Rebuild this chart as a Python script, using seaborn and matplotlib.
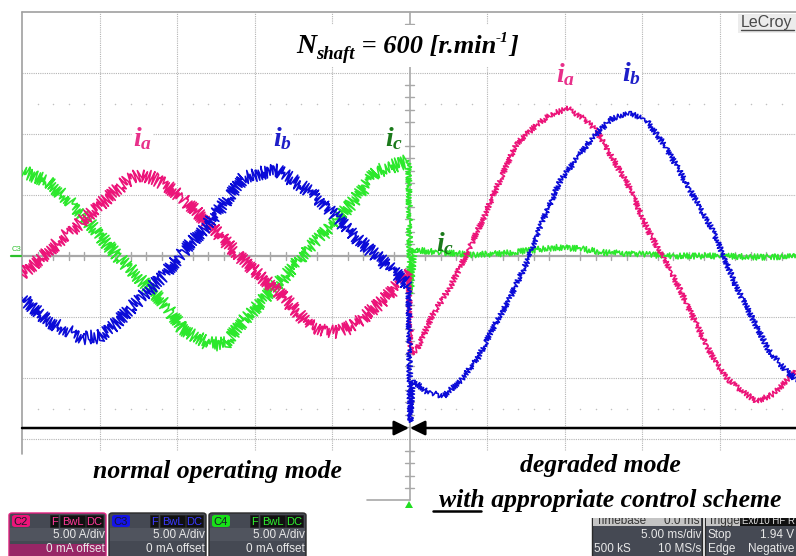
import matplotlib
matplotlib.use("Agg")
import matplotlib.pyplot as plt
import seaborn as sns
from matplotlib.patches import Rectangle, FancyBboxPatch, Polygon
from matplotlib.lines import Line2D

# ---------------- data : time [ms], current [A] (5 A/div, 5 ms/div) ----------------
t_ia_normal = [0.0, 1.7, 3.9, 6.0, 6.8, 7.7, 8.6, 9.2, 10.3, 12.0, 14.3, 16.5, 18.6, 19.4, 20.3, 21.2, 21.8, 23.5, 24.95]
ia_normal = [-1.5, 0.4, 2.9, 5.3, 6.2, 6.7, 6.3, 5.9, 4.8, 2.7, -0.4, -2.9, -5.7, -6.1, -6.3, -5.8, -5.3, -3.4, -1.3]

t_ib_normal = [0.0, 1.7, 2.8, 3.9, 5.0, 6.0, 7.7, 9.2, 10.3, 12.0, 14.3, 15.4, 16.5, 17.5, 18.6, 20.3, 21.8, 23.5, 24.95]
ib_normal = [-3.4, -5.3, -6.1, -6.7, -6.6, -5.6, -3.4, -1.5, 0.2, 2.6, 6.4, 6.8, 7.0, 6.2, 5.3, 3.1, 1.2, -0.7, -2.4]

t_ic_normal = [0.0, 1.7, 3.9, 6.0, 7.7, 9.2, 10.3, 11.2, 12.0, 13.1, 14.3, 16.5, 18.6, 20.3, 21.8, 22.8, 23.5, 24.95]
ic_normal = [7.0, 6.1, 3.4, 0.2, -2.0, -3.9, -5.9, -6.6, -7.2, -7.2, -5.3, -2.3, 0.7, 2.9, 5.1, 6.9, 7.2, 7.8]

t_ia_degraded = [24.95, 25.1, 25.5, 26.5, 27.6, 28.7, 29.7, 30.8, 31.9, 33.0, 34.1, 35.2, 36.2, 37.1, 38.1,
                 39.2, 40.3, 41.4, 42.4, 43.5, 44.6, 45.6, 46.7, 47.4, 48.5, 49.5, 50.0]
ia_degraded = [-1.3, -8.0, -7.6, -4.8, -2.6, 0.2, 2.9, 6.1, 9.2, 10.5, 11.6, 12.1, 11.3, 10.2, 8.0,
               5.6, 2.3, -0.2, -2.6, -5.6, -8.4, -10.2, -11.3, -11.9, -11.3, -10.0, -9.4]

t_ib_degraded = [24.95, 25.05, 25.2, 26.1, 27.2, 28.3, 29.4, 30.4, 31.5, 32.6, 33.6, 34.7, 35.8, 36.8, 38.1,
                 39.2, 40.3, 41.4, 42.4, 43.5, 44.6, 45.2, 46.1, 47.2, 48.2, 49.3, 50.0]
ib_degraded = [-2.4, -13.6, -10.2, -11.1, -11.5, -10.2, -8.4, -5.9, -3.4, -0.4, 2.9, 6.1, 8.0, 9.7, 11.3,
               11.7, 11.1, 9.2, 7.0, 4.5, 2.0, 0.2, -2.6, -5.3, -7.8, -9.4, -10.2]

t_ic_degraded = [24.95, 25.05, 25.3, 27.0, 29.0, 31.0, 33.0, 34.5, 36.0, 37.5, 39.0, 42.0, 45.0, 48.0, 50.0]
ic_degraded = [7.8, -3.1, 0.5, 0.3, 0.1, 0.2, 0.5, 0.7, 0.6, 0.3, 0.2, 0.0, 0.0, -0.1, 0.0]

grid_times = [5, 10, 15, 20, 30, 35, 40, 45]
grid_currents = [15, 10, 5, -5, -10, -15]

channel_names = ["C2", "C3", "C4"]
channel_scale = ["5.00 A/div", "5.00 A/div", "5.00 A/div"]
channel_offset = ["0 mA offset", "0 mA offset", "0 mA offset"]

# ---------------- style ----------------
W, H = 796, 556
sns.set_style("white")
plt.rcParams["font.family"] = ["Liberation Sans", "DejaVu Sans"]
plt.rcParams["mathtext.fontset"] = "custom"
plt.rcParams["mathtext.it"] = "Liberation Serif:bold:italic"
plt.rcParams["mathtext.rm"] = "Liberation Serif:bold:italic"
plt.rcParams["mathtext.bf"] = "Liberation Serif:bold"

PINK, BLUE, GREEN = "#EC1479", "#0B0BD8", "#2CE82C"
PINK_T, BLUE_T, GREEN_T = "#E8308A", "#1E1EC8", "#1B7A1B"

fig = plt.figure(figsize=(W / 100, H / 100), dpi=100)
fig.patch.set_facecolor("white")


def fx(x):
    return x / W


def fy(y):
    return 1 - y / H


L, R, T, B = 22, 797, 12, 500
ax = fig.add_axes([fx(L), fy(B), (R - L) / W, (B - T) / H])
ax.set_xlim(0, 50)
ax.set_ylim(-20, 20)

# ---------------- graticule ----------------
gc = "#b4b4b4"
ybot = -15.9
for t in grid_times:
    ax.plot([t, t], [ybot, 20], color=gc, lw=0.8, ls=(0, (1, 1)), zorder=1)
for a in grid_currents:
    ax.plot([0, 50], [a, a], color=gc, lw=0.8, ls=(0, (1, 1)), zorder=1)
ax.plot([0, 0], [-16.2, 20], color="#a0a0a0", lw=1.2, zorder=1, clip_on=False)
ax.plot([0, 50], [20, 20], color="#a0a0a0", lw=1.2, zorder=1, clip_on=False)
ax.plot([25, 25], [-20, 20], color="#a8a8a8", lw=1.2, zorder=1, clip_on=False)
ax.plot([0, 50], [0, 0], color="#a8a8a8", lw=1.6, zorder=1)
ax.plot([22.26, 25], [-20, -20], color="#a8a8a8", lw=1.2, zorder=1, clip_on=False)
for k in range(1, 50):
    if k % 5:
        ax.plot([k, k], [-0.33, 0.33], color="#a8a8a8", lw=1.0, zorder=1)
for k in range(-19, 20):
    if k % 5:
        ax.plot([24.74, 25.26], [k, k], color="#a8a8a8", lw=1.0, zorder=1)
dots_t = [k for k in range(1, 50) if k % 5]
for lev in (12.5, -12.5):
    ax.scatter(dots_t, [lev] * len(dots_t), s=1.2, color="#c0c0c0", zorder=1, linewidths=0)


# ---------------- traces ----------------
def trace(t, v, color, scale, z):
    sns.lineplot(x=t, y=v, color=color, lw=1.15, ax=ax, estimator=None, sort=False,
                 legend=False, zorder=z)
    ax.lines[-1].set_sketch_params(scale, 3, 2)


trace(t_ic_normal, ic_normal, GREEN, 7, 3)
trace(t_ia_normal, ia_normal, PINK, 7, 4)
trace(t_ib_normal, ib_normal, BLUE, 7, 5)
trace(t_ic_degraded, ic_degraded, GREEN, 3, 3)
trace(t_ia_degraded, ia_degraded, PINK, 2.8, 4)
trace(t_ib_degraded, ib_degraded, BLUE, 2.8, 5)
ax.axis("off")

# mode arrows
ax.annotate("", xy=(24.97, -14.1), xytext=(0, -14.1),
            arrowprops=dict(arrowstyle="-|>,head_length=0.45,head_width=0.22", color="black",
                            lw=1.8, shrinkA=0, shrinkB=0, mutation_scale=20), zorder=6)
ax.annotate("", xy=(25.03, -14.1), xytext=(50.5, -14.1),
            arrowprops=dict(arrowstyle="-|>,head_length=0.45,head_width=0.22", color="black",
                            lw=1.8, shrinkA=0, shrinkB=0, mutation_scale=20), zorder=6,
            annotation_clip=False)

# ---------------- title built from runs ----------------
renderer = fig.canvas.get_renderer()
fig.add_artist(Rectangle((fx(290), fy(67)), 236 / W, 42 / H, fc="white", ec="none", zorder=2))
serif_bi = dict(family="Liberation Serif", weight="bold", style="italic", ha="left",
                va="baseline", color="black", zorder=7)
title_runs = [("N", 20, 0), ("shaft", 13.5, 6), (" = 600 [r.min", 19, 0), ("-1", 11, -11), ("]", 19, 0)]
total = 0
for s, size, dy in title_runs:
    tt = fig.text(0, 0, s, fontsize=size, **serif_bi)
    total += tt.get_window_extent(renderer=renderer).width
    tt.remove()
xcur = 407 - total / 2
for s, size, dy in title_runs:
    tt = fig.text(fx(xcur), fy(53 + dy), s, fontsize=size, **serif_bi)
    xcur += tt.get_window_extent(renderer=renderer).width

# ---------------- labels ----------------
lab = dict(fontsize=20, ha="left", va="baseline", zorder=7)
bb = dict(fc="white", ec="none", pad=1)
fig.text(fx(133), fy(146), r"$i_a$", color=PINK_T, bbox=bb, **lab)
fig.text(fx(273), fy(146), r"$i_b$", color=BLUE_T, bbox=bb, **lab)
fig.text(fx(385), fy(146), r"$i_c$", color=GREEN_T, bbox=bb, **lab)
fig.text(fx(556), fy(82), r"$i_a$", color=PINK_T, bbox=bb, **lab)
fig.text(fx(622), fy(81), r"$i_b$", color=BLUE_T, bbox=bb, **lab)
fig.text(fx(436), fy(251), r"$i_c$", color=GREEN_T, **lab)

bt = dict(fontsize=18.5, family="Liberation Serif", weight="bold", style="italic",
          ha="center", va="baseline", color="black")
fig.text(fx(217), fy(478), "normal operating mode", **bt)
fig.text(fx(600), fy(472), "degraded mode", **bt)
fig.text(fx(610), fy(507), "with appropriate control scheme", **bt)
fig.add_artist(Line2D([fx(433), fx(481)], [fy(511), fy(511)], color="black", lw=1.8))

# LeCroy badge
fig.add_artist(Rectangle((fx(738), fy(33)), (796 - 738) / W, 19 / H, fc="#ececec", ec="none"))
fig.text(fx(741), fy(27), "LeCroy", fontsize=11.5, color="#4a4a4a", ha="left", va="baseline")
fig.add_artist(Line2D([fx(741), fx(794)], [fy(29.5), fy(29.5)], color="#4a4a4a", lw=1.0))

# C3 marker at left
fig.text(fx(16), fy(251), "C3", fontsize=5.5, color="#2cc02c", ha="center", va="baseline")
fig.add_artist(Line2D([fx(11), fx(21)], [fy(256), fy(256)], color="#2cc02c", lw=1.6))

# trigger marker
fig.add_artist(Polygon([(fx(405), fy(508)), (fx(413), fy(508)), (fx(409), fy(501))],
                       closed=True, fc="#22dd22", ec="none"))

# ---------------- scope info panels ----------------
tag_cols = [PINK, "#1414E6", "#18E018"]
txt_cols = ["#ff3a9a", "#3a3aff", "#30f030"]
for i in range(3):
    x0 = 9 + 100 * i
    border = "#e0207f" if i == 0 else "#2a2a2a"
    fig.add_artist(FancyBboxPatch((fx(x0), fy(560)), 97 / W, 47 / H,
                                  boxstyle="round,pad=0,rounding_size=0.004",
                                  fc="#454953", ec=border, lw=1.0))
    fig.add_artist(Rectangle((fx(x0 + 1), fy(541)), 95 / W, 13 / H, fc="#50545e", ec="none"))
    if i == 0:
        fig.add_artist(Rectangle((fx(x0 + 1), fy(556)), 95 / W, 12 / H, fc="#a8206a", ec="none",
                                 alpha=0.85))
    fig.add_artist(FancyBboxPatch((fx(x0 + 3), fy(527)), 18 / W, 12 / H,
                                  boxstyle="round,pad=0,rounding_size=0.004",
                                  fc=tag_cols[i], ec="none"))
    fig.text(fx(x0 + 12), fy(525), channel_names[i], fontsize=8, color="#1a1a2a",
             ha="center", va="baseline")
    for lab_s, xa, wa in (("F", 41, 8), ("BwL", 51, 25), ("DC", 77, 17)):
        fig.add_artist(Rectangle((fx(x0 + xa), fy(527)), wa / W, 12 / H, fc="#101010",
                                 ec="#202020", lw=0.5))
        fig.text(fx(x0 + xa + wa / 2), fy(525), lab_s, fontsize=8, color=txt_cols[i],
                 ha="center", va="baseline")
    fig.text(fx(x0 + 96), fy(538), channel_scale[i], fontsize=8.5, color="#e8e8e8",
             ha="right", va="baseline")
    fig.text(fx(x0 + 96), fy(552), channel_offset[i], fontsize=8.5, color="#e8e8e8",
             ha="right", va="baseline")

# timebase panel
fig.add_artist(Rectangle((fx(592), fy(560)), 110 / W, 43 / H, fc="#454953", ec="#2a2a2a", lw=1))
fig.add_artist(Rectangle((fx(593), fy(526)), 108 / W, 9 / H, fc="#c4c4c4", ec="none"))
fig.text(fx(596), fy(524), "Timebase", fontsize=8.5, color="#333333", ha="left", va="baseline")
fig.text(fx(700), fy(524), "0.0 ms", fontsize=8.5, color="#333333", ha="right", va="baseline")
fig.text(fx(701), fy(538), "5.00 ms/div", fontsize=8.5, color="#e8e8e8", ha="right", va="baseline")
fig.text(fx(594), fy(552), "500 kS", fontsize=8.5, color="#e8e8e8", ha="left", va="baseline")
fig.text(fx(701), fy(552), "10 MS/s", fontsize=8.5, color="#e8e8e8", ha="right", va="baseline")
# trigger panel
fig.add_artist(Rectangle((fx(705), fy(560)), 95 / W, 43 / H, fc="#454953", ec="#2a2a2a", lw=1))
fig.add_artist(Rectangle((fx(706), fy(526)), 94 / W, 9 / H, fc="#c4c4c4", ec="none"))
fig.add_artist(Rectangle((fx(740), fy(526)), 56 / W, 9 / H, fc="#101010", ec="none"))
fig.text(fx(708), fy(524), "Trigger", fontsize=8.5, color="#333333", ha="left", va="baseline")
fig.text(fx(742), fy(524), "Ext/10 HF R", fontsize=7, color="#dddddd", ha="left", va="baseline")
fig.text(fx(708), fy(538), "Stop", fontsize=8.5, color="#e8e8e8", ha="left", va="baseline")
fig.text(fx(794), fy(538), "1.94 V", fontsize=8.5, color="#e8e8e8", ha="right", va="baseline")
fig.text(fx(794), fy(552), "Negative", fontsize=8.5, color="#e8e8e8", ha="right", va="baseline")
fig.text(fx(708), fy(552), "Edge", fontsize=8.5, color="#e8e8e8", ha="left", va="baseline")
# white cut over the top of the right panels
fig.add_artist(Rectangle((fx(588), fy(518)), 210 / W, 8 / H, fc="white", ec="none", zorder=5))

fig.savefig("out.png", dpi=100, facecolor="white")
